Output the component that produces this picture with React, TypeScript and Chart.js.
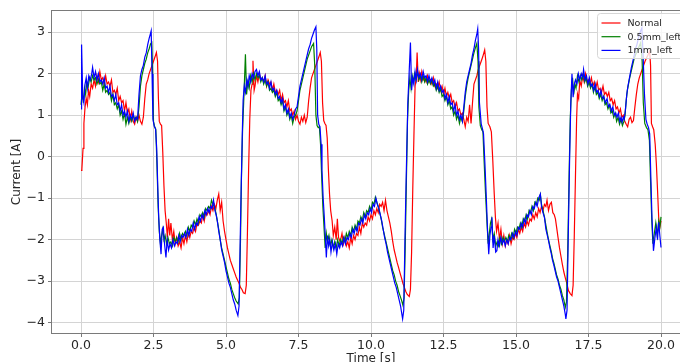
import React, { useEffect, useRef } from "react";
import { Chart, registerables } from "chart.js";

Chart.register(...registerables);

const seriesLabels = ["Normal", "0.5mm_left", "1mm_left"];
const seriesColors = ["#ff0000", "#008000", "#0000ff"];

const xTicks = [0, 2.5, 5, 7.5, 10, 12.5, 15, 17.5, 20];
const yTicks = [-4, -3, -2, -1, 0, 1, 2, 3];

// Normal: [time s, current A]
const normalData: [number, number][] = [
  [0,-0.33],[0.03,-0.3],[0.07,0.2],[0.1,0.8],[0.14,1.2],[0.18,1.4],[0.22,1.25],[0.26,1.6],[0.3,1.45],[0.35,1.75],
  [0.4,1.65],[0.45,1.85],[0.5,1.7],[0.55,1.95],[0.6,1.8],[0.65,2.05],[0.7,1.85],[0.75,1.9],[0.8,1.75],[0.85,1.95],
  [0.9,1.75],[0.95,1.8],[1.0,1.7],[1.05,1.85],[1.1,1.55],[1.15,1.6],[1.2,1.5],[1.25,1.65],[1.3,1.35],[1.35,1.45],
  [1.4,1.3],[1.45,1.35],[1.5,1.1],[1.55,1.3],[1.6,1.05],[1.65,1.15],[1.7,0.9],[1.75,1.1],[1.8,0.85],[1.85,0.78],
  [1.9,0.95],[1.95,0.85],[2.0,1.0],[2.05,0.85],[2.1,0.78],[2.15,0.95],[2.2,1.4],[2.25,1.75],[2.3,1.85],[2.35,2.0],
  [2.4,2.1],[2.45,2.2],[2.5,2.3],[2.55,2.4],[2.6,2.51],[2.64,2.3],[2.67,1.4],[2.7,0.85],[2.74,0.78],[2.78,0.75],
  [2.82,0.1],[2.86,-0.7],[2.9,-1.3],[2.94,-1.6],[2.98,-1.95],[3.02,-1.5],[3.06,-1.9],[3.1,-1.6],[3.15,-2.0],[3.2,-1.8],
  [3.25,-2.1],[3.3,-1.95],[3.35,-2.15],[3.4,-2.05],[3.45,-2.2],[3.5,-1.95],[3.55,-2.1],[3.6,-1.9],[3.65,-2.05],[3.7,-1.85],
  [3.75,-1.95],[3.8,-1.8],[3.85,-1.85],[3.9,-1.7],[3.95,-1.8],[4.0,-1.6],[4.05,-1.65],[4.1,-1.55],[4.15,-1.6],[4.2,-1.4],
  [4.25,-1.55],[4.3,-1.35],[4.35,-1.4],[4.4,-1.3],[4.45,-1.4],[4.5,-1.2],[4.55,-1.3],[4.6,-1.15],[4.65,-1.25],[4.7,-1.05],
  [4.75,-0.9],[4.8,-1.3],[4.85,-1.1],[4.9,-1.55],[4.95,-1.8],[5.0,-2.0],[5.05,-2.2],[5.1,-2.35],[5.15,-2.5],[5.2,-2.6],
  [5.25,-2.7],[5.3,-2.8],[5.35,-2.9],[5.4,-2.98],[5.45,-3.05],[5.5,-3.15],[5.55,-3.2],[5.6,-3.28],[5.66,-3.3],[5.7,-3.1],
  [5.74,-1.8],[5.78,-0.3],[5.82,0.9],[5.86,1.6],[5.9,1.75],[5.93,2.31],[5.97,1.6],[6.0,1.7],[6.05,1.95],[6.1,1.8],
  [6.15,2.0],[6.2,1.85],[6.25,1.9],[6.3,1.8],[6.35,1.95],[6.4,1.7],[6.45,1.85],[6.5,1.75],[6.55,1.8],[6.6,1.6],
  [6.65,1.75],[6.7,1.55],[6.75,1.6],[6.8,1.5],[6.85,1.6],[6.9,1.35],[6.95,1.5],[7.0,1.3],[7.05,1.35],[7.1,1.2],
  [7.15,1.35],[7.2,1.1],[7.25,1.15],[7.3,1.0],[7.35,1.1],[7.4,0.9],[7.45,1.0],[7.5,0.85],[7.55,0.78],[7.6,0.95],
  [7.65,0.85],[7.7,1.0],[7.75,0.82],[7.8,0.95],[7.85,1.35],[7.9,1.65],[7.95,1.9],[8.0,2.0],[8.05,2.1],[8.1,2.2],
  [8.15,2.3],[8.2,2.4],[8.25,2.51],[8.29,2.3],[8.33,1.3],[8.37,0.87],[8.41,0.8],[8.45,0.75],[8.49,0.45],[8.53,-0.3],
  [8.57,-0.9],[8.61,-1.3],[8.66,-1.55],[8.7,-1.9],[8.75,-1.7],[8.8,-2.0],[8.84,-1.5],[8.88,-1.95],[8.94,-2.05],[9.0,-1.85],
  [9.05,-2.1],[9.1,-1.95],[9.15,-2.15],[9.2,-2.05],[9.25,-2.2],[9.3,-1.95],[9.35,-2.1],[9.4,-1.9],[9.45,-2.0],[9.5,-1.85],
  [9.55,-1.9],[9.6,-1.7],[9.65,-1.85],[9.7,-1.6],[9.75,-1.7],[9.8,-1.6],[9.85,-1.65],[9.9,-1.45],[9.95,-1.55],[10.0,-1.4],
  [10.05,-1.5],[10.1,-1.3],[10.15,-1.4],[10.2,-1.25],[10.25,-1.35],[10.3,-1.15],[10.35,-1.2],[10.4,-1.1],[10.45,-1.3],[10.5,-1.05],
  [10.55,-1.3],[10.6,-1.45],[10.65,-1.6],[10.7,-1.8],[10.75,-2.05],[10.8,-2.25],[10.85,-2.4],[10.9,-2.55],[10.95,-2.67],[11.0,-2.8],
  [11.05,-2.92],[11.1,-3.05],[11.15,-3.15],[11.2,-3.25],[11.25,-3.32],[11.32,-3.37],[11.36,-3.2],[11.4,-2.3],[11.44,-0.8],[11.48,0.5],
  [11.52,1.7],[11.56,1.9],[11.59,2.51],[11.63,1.8],[11.67,2.0],[11.7,1.85],[11.75,2.05],[11.8,1.85],[11.85,1.9],[11.9,1.8],
  [11.95,1.95],[12.0,1.8],[12.05,1.85],[12.1,1.75],[12.15,1.9],[12.2,1.7],[12.25,1.75],[12.3,1.65],[12.35,1.8],[12.4,1.6],
  [12.45,1.7],[12.5,1.5],[12.55,1.65],[12.6,1.45],[12.65,1.55],[12.7,1.4],[12.75,1.5],[12.8,1.3],[12.85,1.35],[12.9,1.2],
  [12.95,1.3],[13.0,1.1],[13.05,1.15],[13.1,1.0],[13.15,1.05],[13.2,0.9],[13.25,0.72],[13.3,0.95],[13.35,0.85],[13.4,1.25],
  [13.45,0.8],[13.5,1.3],[13.55,1.75],[13.6,1.85],[13.65,1.95],[13.7,2.1],[13.75,2.2],[13.8,2.3],[13.85,2.4],[13.92,2.57],
  [13.96,2.3],[14.0,1.2],[14.04,0.8],[14.1,0.72],[14.15,0.6],[14.2,-0.1],[14.25,-0.9],[14.29,-1.46],[14.33,-1.8],[14.38,-1.6],
  [14.43,-2.0],[14.48,-1.75],[14.53,-2.1],[14.58,-1.9],[14.63,-2.15],[14.68,-2.0],[14.73,-2.1],[14.78,-1.9],[14.83,-2.1],[14.88,-1.95],
  [14.93,-2.0],[14.98,-1.85],[15.03,-1.95],[15.08,-1.75],[15.13,-1.85],[15.18,-1.7],[15.23,-1.8],[15.28,-1.6],[15.33,-1.7],[15.38,-1.55],
  [15.43,-1.65],[15.48,-1.5],[15.53,-1.55],[15.58,-1.4],[15.63,-1.5],[15.68,-1.35],[15.73,-1.45],[15.78,-1.25],[15.83,-1.35],[15.88,-1.2],
  [15.93,-1.3],[15.98,-1.15],[16.03,-1.2],[16.07,-1.05],[16.12,-1.3],[16.17,-1.15],[16.22,-1.1],[16.27,-1.35],[16.32,-1.4],[16.36,-1.5],
  [16.4,-1.7],[16.45,-1.95],[16.5,-2.2],[16.55,-2.4],[16.6,-2.6],[16.65,-2.78],[16.7,-2.92],[16.75,-3.05],[16.81,-3.23],[16.87,-3.3],
  [16.93,-3.35],[16.97,-3.1],[17.01,-1.9],[17.05,-0.5],[17.09,0.9],[17.12,1.51],[17.16,1.4],[17.2,1.83],[17.25,1.7],[17.3,1.95],
  [17.35,1.8],[17.4,2.0],[17.45,1.8],[17.5,1.85],[17.55,1.75],[17.6,1.9],[17.65,1.7],[17.7,1.8],[17.75,1.65],[17.8,1.8],
  [17.85,1.6],[17.9,1.65],[17.95,1.55],[18.0,1.7],[18.05,1.5],[18.1,1.55],[18.15,1.45],[18.2,1.55],[18.25,1.35],[18.3,1.4],
  [18.35,1.25],[18.4,1.35],[18.45,1.15],[18.5,1.2],[18.55,1.05],[18.6,1.15],[18.65,0.95],[18.7,1.0],[18.75,0.85],[18.8,0.78],
  [18.85,0.72],[18.9,0.9],[18.95,0.95],[19.0,0.82],[19.05,0.87],[19.1,1.2],[19.15,1.5],[19.2,1.75],[19.25,1.9],[19.3,2.0],
  [19.35,2.1],[19.4,2.2],[19.45,2.3],[19.5,2.38],[19.55,2.45],[19.61,2.55],[19.64,2.2],[19.67,0.8],[19.71,0.72],[19.75,0.65],
  [19.8,0.3],[19.84,-0.17],[19.88,-0.8],[19.92,-1.46],[19.96,-1.7],[20.0,-1.55],
];

// 0.5mm_left: [time s, current A]
const halfMmData: [number, number][] = [
  [0,1.25],[0.04,1.55],[0.08,1.3],[0.12,1.65],[0.16,1.5],[0.2,1.8],[0.25,1.7],[0.3,1.9],[0.35,1.8],[0.4,1.95],
  [0.45,1.85],[0.5,1.9],[0.55,1.75],[0.6,1.85],[0.65,1.75],[0.7,1.8],[0.75,1.6],[0.8,1.75],[0.85,1.55],[0.9,1.6],
  [0.95,1.5],[1.0,1.55],[1.05,1.35],[1.1,1.5],[1.15,1.25],[1.2,1.3],[1.25,1.15],[1.3,1.25],[1.35,1.0],[1.4,1.1],
  [1.45,0.9],[1.5,1.05],[1.55,0.78],[1.6,0.95],[1.65,0.8],[1.7,0.95],[1.75,0.85],[1.8,1.0],[1.85,0.9],[1.9,0.95],
  [1.95,0.85],[2.0,1.2],[2.05,1.7],[2.1,1.95],[2.15,2.1],[2.2,2.25],[2.25,2.35],[2.3,2.5],[2.35,2.6],[2.4,2.72],
  [2.44,2.75],[2.47,2.0],[2.5,0.85],[2.54,0.72],[2.58,0.65],[2.62,-0.2],[2.66,-1.2],[2.7,-1.8],[2.74,-2.1],[2.78,-1.9],
  [2.82,-1.75],[2.86,-2.0],[2.9,-1.9],[2.95,-2.1],[3.0,-1.95],[3.05,-2.1],[3.1,-2.05],[3.15,-2.15],[3.2,-1.95],[3.25,-2.05],
  [3.3,-1.95],[3.35,-2.05],[3.4,-1.85],[3.45,-2.0],[3.5,-1.85],[3.55,-1.9],[3.6,-1.8],[3.65,-1.9],[3.7,-1.7],[3.75,-1.8],
  [3.8,-1.65],[3.85,-1.7],[3.9,-1.55],[3.95,-1.65],[4.0,-1.5],[4.05,-1.6],[4.1,-1.4],[4.15,-1.45],[4.2,-1.35],[4.25,-1.45],
  [4.3,-1.25],[4.35,-1.3],[4.4,-1.2],[4.45,-1.25],[4.5,-1.05],[4.55,-1.15],[4.6,-1.2],[4.65,-1.35],[4.7,-1.55],[4.75,-1.75],
  [4.8,-2.0],[4.85,-2.2],[4.9,-2.35],[4.95,-2.5],[5.0,-2.65],[5.05,-2.8],[5.1,-2.95],[5.15,-3.05],[5.2,-3.2],[5.25,-3.3],
  [5.3,-3.4],[5.35,-3.48],[5.42,-3.55],[5.46,-3.4],[5.5,-2.0],[5.53,-0.6],[5.57,0.6],[5.62,1.5],[5.67,2.47],[5.71,1.5],
  [5.75,1.8],[5.8,1.65],[5.85,1.95],[5.9,1.8],[5.95,2.0],[6.0,1.85],[6.05,2.0],[6.1,1.9],[6.15,1.95],[6.2,1.8],
  [6.25,1.9],[6.3,1.75],[6.35,1.85],[6.4,1.7],[6.45,1.8],[6.5,1.6],[6.55,1.65],[6.6,1.55],[6.65,1.6],[6.7,1.45],
  [6.75,1.55],[6.8,1.35],[6.85,1.4],[6.9,1.25],[6.95,1.35],[7.0,1.1],[7.05,1.2],[7.1,1.0],[7.15,1.1],[7.2,0.9],
  [7.25,1.0],[7.3,0.8],[7.35,0.95],[7.4,1.0],[7.45,1.1],[7.5,1.35],[7.55,1.6],[7.6,1.75],[7.65,1.9],[7.7,2.05],
  [7.75,2.2],[7.8,2.35],[7.85,2.45],[7.9,2.55],[7.95,2.65],[8.02,2.73],[8.06,2.2],[8.1,1.0],[8.14,0.75],[8.18,0.7],
  [8.22,0.72],[8.26,0.3],[8.3,-0.5],[8.34,-1.2],[8.38,-1.7],[8.42,-2.2],[8.46,-1.85],[8.5,-2.05],[8.55,-1.9],[8.6,-2.15],
  [8.65,-2.0],[8.7,-2.2],[8.75,-2.05],[8.8,-2.2],[8.85,-2.0],[8.9,-2.15],[8.95,-2.0],[9.0,-2.1],[9.05,-1.95],[9.1,-2.05],
  [9.15,-1.85],[9.2,-1.95],[9.25,-1.8],[9.3,-1.9],[9.35,-1.7],[9.4,-1.8],[9.45,-1.65],[9.5,-1.75],[9.55,-1.55],[9.6,-1.6],
  [9.65,-1.45],[9.7,-1.55],[9.75,-1.35],[9.8,-1.45],[9.85,-1.3],[9.9,-1.35],[9.95,-1.2],[10.0,-1.3],[10.05,-1.1],[10.1,-1.15],
  [10.15,-0.98],[10.2,-1.1],[10.25,-1.2],[10.3,-1.35],[10.35,-1.5],[10.4,-1.7],[10.45,-1.85],[10.5,-2.0],[10.55,-2.15],[10.6,-2.3],
  [10.65,-2.45],[10.7,-2.6],[10.75,-2.75],[10.8,-2.85],[10.85,-3.0],[10.9,-3.1],[10.95,-3.25],[11.0,-3.35],[11.05,-3.45],[11.1,-3.58],
  [11.14,-3.4],[11.18,-2.2],[11.22,-0.6],[11.26,0.9],[11.3,1.59],[11.34,1.9],[11.38,1.65],[11.42,1.95],[11.46,1.8],[11.5,2.0],
  [11.55,1.85],[11.6,2.05],[11.65,1.85],[11.7,1.95],[11.75,1.8],[11.8,1.95],[11.85,1.8],[11.9,1.9],[11.95,1.75],[12.0,1.85],
  [12.05,1.75],[12.1,1.85],[12.15,1.7],[12.2,1.75],[12.25,1.6],[12.3,1.7],[12.35,1.55],[12.4,1.65],[12.45,1.45],[12.5,1.5],
  [12.55,1.35],[12.6,1.45],[12.65,1.25],[12.7,1.35],[12.75,1.15],[12.8,1.2],[12.85,1.0],[12.9,1.1],[12.95,0.9],[13.0,1.0],
  [13.05,0.8],[13.1,0.95],[13.15,0.85],[13.2,1.1],[13.25,1.45],[13.3,1.7],[13.35,1.9],[13.4,2.05],[13.45,2.2],[13.5,2.35],
  [13.55,2.5],[13.6,2.62],[13.65,2.73],[13.69,2.3],[13.72,1.2],[13.77,0.75],[13.82,0.65],[13.86,0.6],[13.9,-0.1],[13.95,-0.9],
  [14.0,-1.6],[14.04,-2.1],[14.08,-1.85],[14.12,-1.6],[14.16,-1.5],[14.2,-2.0],[14.25,-1.85],[14.3,-2.15],[14.35,-2.05],[14.4,-2.15],
  [14.45,-1.95],[14.5,-2.1],[14.55,-1.95],[14.6,-2.05],[14.65,-1.95],[14.7,-2.05],[14.75,-1.9],[14.8,-2.0],[14.85,-1.85],[14.9,-1.95],
  [14.95,-1.75],[15.0,-1.85],[15.05,-1.7],[15.1,-1.75],[15.15,-1.6],[15.2,-1.7],[15.25,-1.5],[15.3,-1.55],[15.35,-1.4],[15.4,-1.5],
  [15.45,-1.3],[15.5,-1.35],[15.55,-1.2],[15.6,-1.3],[15.65,-1.1],[15.7,-1.15],[15.75,-1.0],[15.8,-1.05],[15.84,-0.92],[15.88,-1.15],
  [15.93,-1.3],[15.98,-1.45],[16.03,-1.65],[16.08,-1.85],[16.12,-2.0],[16.17,-2.15],[16.22,-2.3],[16.26,-2.45],[16.3,-2.55],[16.35,-2.7],
  [16.4,-2.85],[16.45,-2.95],[16.5,-3.1],[16.55,-3.2],[16.6,-3.35],[16.65,-3.45],[16.7,-3.63],[16.74,-3.5],[16.78,-2.4],[16.83,-0.5],
  [16.87,0.9],[16.91,1.6],[16.95,1.9],[16.99,1.5],[17.03,1.75],[17.07,1.65],[17.12,1.95],[17.17,1.8],[17.22,1.95],[17.27,1.85],
  [17.32,2.0],[17.37,1.8],[17.42,1.9],[17.47,1.7],[17.52,1.8],[17.57,1.65],[17.62,1.75],[17.67,1.55],[17.72,1.7],[17.77,1.5],
  [17.82,1.55],[17.87,1.4],[17.92,1.5],[17.97,1.35],[18.02,1.45],[18.07,1.25],[18.12,1.3],[18.17,1.15],[18.22,1.25],[18.27,1.05],
  [18.32,1.1],[18.37,0.95],[18.42,1.05],[18.47,0.85],[18.52,0.95],[18.57,0.78],[18.62,0.9],[18.67,0.75],[18.72,0.85],[18.76,1.0],
  [18.8,1.35],[18.84,1.6],[18.88,1.75],[18.92,1.9],[18.97,2.05],[19.02,2.2],[19.07,2.35],[19.12,2.45],[19.18,2.55],[19.24,2.65],
  [19.3,2.75],[19.35,2.3],[19.39,1.3],[19.44,0.8],[19.5,0.7],[19.55,0.65],[19.6,0.4],[19.64,-0.6],[19.68,-1.5],[19.72,-2.1],
  [19.77,-1.85],[19.82,-1.6],[19.87,-1.9],[19.92,-1.55],[19.96,-1.7],[20.0,-1.45],
];

// 1mm_left: [time s, current A]
const oneMmData: [number, number][] = [
  [0,1.15],[0.02,2.7],[0.06,1.45],[0.1,1.3],[0.14,1.75],[0.18,1.9],[0.22,1.65],[0.27,1.95],[0.32,1.85],[0.37,2.0],
  [0.4,2.15],[0.45,1.9],[0.5,2.05],[0.55,1.85],[0.6,2.0],[0.65,1.8],[0.7,1.85],[0.75,1.75],[0.8,1.9],[0.85,1.65],
  [0.9,1.7],[0.95,1.55],[1.0,1.7],[1.05,1.45],[1.1,1.5],[1.15,1.35],[1.2,1.5],[1.25,1.25],[1.3,1.3],[1.35,1.1],
  [1.4,1.25],[1.45,1.0],[1.5,1.1],[1.55,0.95],[1.6,1.1],[1.65,0.85],[1.7,1.0],[1.75,0.9],[1.8,1.05],[1.85,0.85],
  [1.9,0.95],[1.95,0.9],[2.0,1.5],[2.05,1.95],[2.1,2.1],[2.15,2.2],[2.2,2.4],[2.25,2.5],[2.3,2.7],[2.35,2.85],
  [2.39,2.95],[2.42,3.03],[2.45,2.0],[2.48,0.9],[2.53,0.72],[2.57,0.68],[2.61,0.2],[2.65,-0.8],[2.68,-1.46],[2.72,-2.0],
  [2.76,-2.35],[2.8,-1.75],[2.84,-1.7],[2.88,-2.1],[2.93,-2.43],[2.97,-2.0],[3.02,-2.25],[3.07,-2.1],[3.12,-2.2],[3.17,-2.0],
  [3.22,-2.15],[3.27,-2.05],[3.32,-2.1],[3.37,-1.9],[3.42,-2.05],[3.47,-1.9],[3.52,-1.95],[3.57,-1.85],[3.62,-1.95],[3.67,-1.75],
  [3.72,-1.9],[3.77,-1.75],[3.82,-1.8],[3.87,-1.6],[3.92,-1.75],[3.97,-1.6],[4.02,-1.65],[4.07,-1.45],[4.12,-1.55],[4.17,-1.4],
  [4.22,-1.5],[4.27,-1.3],[4.32,-1.4],[4.37,-1.25],[4.42,-1.35],[4.47,-1.2],[4.52,-1.25],[4.57,-1.05],[4.62,-1.3],[4.66,-1.4],
  [4.7,-1.55],[4.75,-1.8],[4.8,-2.0],[4.85,-2.25],[4.9,-2.4],[4.95,-2.55],[5.0,-2.75],[5.05,-2.9],[5.1,-3.05],[5.15,-3.15],
  [5.2,-3.3],[5.25,-3.45],[5.3,-3.55],[5.35,-3.7],[5.41,-3.83],[5.45,-3.6],[5.49,-2.0],[5.52,-0.9],[5.56,0.5],[5.59,1.35],
  [5.63,1.7],[5.67,1.55],[5.72,1.85],[5.76,1.7],[5.8,1.95],[5.85,1.8],[5.9,2.0],[5.95,1.9],[6.0,2.05],[6.05,2.1],
  [6.1,1.95],[6.15,2.05],[6.2,1.85],[6.25,1.9],[6.3,1.8],[6.35,1.95],[6.4,1.75],[6.45,1.8],[6.5,1.65],[6.55,1.8],
  [6.6,1.6],[6.65,1.65],[6.7,1.5],[6.75,1.6],[6.8,1.4],[6.85,1.45],[6.9,1.3],[6.95,1.4],[7.0,1.15],[7.05,1.25],
  [7.1,1.05],[7.15,1.15],[7.2,0.95],[7.25,1.05],[7.3,0.9],[7.35,1.0],[7.4,1.15],[7.45,1.2],[7.5,1.45],[7.55,1.7],
  [7.6,1.85],[7.65,2.0],[7.7,2.15],[7.75,2.3],[7.8,2.45],[7.85,2.6],[7.9,2.7],[7.95,2.85],[8.0,2.95],[8.05,3.05],
  [8.1,3.13],[8.13,2.6],[8.16,1.0],[8.2,0.78],[8.24,0.72],[8.28,0.3],[8.31,-0.33],[8.35,-1.0],[8.39,-1.46],[8.43,-2.0],
  [8.46,-2.43],[8.5,-1.9],[8.54,-2.15],[8.58,-2.0],[8.62,-2.3],[8.67,-2.05],[8.72,-2.25],[8.77,-2.1],[8.82,-2.35],[8.87,-2.1],
  [8.92,-2.2],[8.97,-2.05],[9.02,-2.15],[9.07,-1.95],[9.12,-2.1],[9.17,-1.95],[9.22,-2.0],[9.27,-1.85],[9.32,-1.95],[9.37,-1.75],
  [9.42,-1.85],[9.47,-1.7],[9.52,-1.8],[9.57,-1.6],[9.62,-1.65],[9.67,-1.5],[9.72,-1.6],[9.77,-1.4],[9.82,-1.5],[9.87,-1.35],
  [9.92,-1.4],[9.97,-1.25],[10.02,-1.35],[10.07,-1.15],[10.12,-1.2],[10.17,-1.0],[10.22,-1.15],[10.27,-1.25],[10.32,-1.4],[10.37,-1.55],
  [10.42,-1.75],[10.47,-1.95],[10.52,-2.1],[10.57,-2.3],[10.62,-2.45],[10.67,-2.6],[10.72,-2.75],[10.77,-2.9],[10.82,-3.05],[10.87,-3.15],
  [10.92,-3.3],[10.97,-3.45],[11.02,-3.6],[11.06,-3.78],[11.09,-3.91],[11.13,-3.7],[11.17,-2.0],[11.22,-0.3],[11.27,1.3],[11.32,2.1],
  [11.36,2.75],[11.4,1.6],[11.44,1.9],[11.48,1.75],[11.52,2.05],[11.56,1.85],[11.6,2.1],[11.65,1.9],[11.7,2.0],[11.75,1.85],
  [11.8,2.05],[11.85,1.9],[11.9,1.95],[11.95,1.8],[12.0,1.95],[12.05,1.8],[12.1,1.9],[12.15,1.75],[12.2,1.85],[12.25,1.65],
  [12.3,1.8],[12.35,1.6],[12.4,1.7],[12.45,1.55],[12.5,1.6],[12.55,1.4],[12.6,1.5],[12.65,1.3],[12.7,1.45],[12.75,1.25],
  [12.8,1.3],[12.85,1.1],[12.9,1.25],[12.95,1.0],[13.0,1.1],[13.05,0.9],[13.1,1.0],[13.15,0.85],[13.2,1.2],[13.25,1.55],
  [13.3,1.8],[13.35,1.95],[13.4,2.1],[13.45,2.25],[13.5,2.45],[13.55,2.6],[13.6,2.8],[13.65,2.95],[13.68,3.08],[13.71,2.6],
  [13.74,1.3],[13.8,0.79],[13.85,0.65],[13.88,0.55],[13.93,-0.2],[13.98,-1.06],[14.02,-1.8],[14.06,-2.35],[14.1,-1.9],[14.14,-1.7],
  [14.17,-1.46],[14.21,-2.2],[14.25,-1.9],[14.3,-2.3],[14.34,-2.27],[14.38,-2.0],[14.43,-2.15],[14.48,-1.95],[14.53,-2.1],[14.58,-2.0],
  [14.63,-2.15],[14.68,-2.0],[14.73,-2.1],[14.78,-1.95],[14.83,-2.0],[14.88,-1.85],[14.93,-1.95],[14.98,-1.8],[15.03,-1.9],[15.08,-1.7],
  [15.13,-1.75],[15.18,-1.6],[15.23,-1.7],[15.28,-1.5],[15.33,-1.6],[15.38,-1.4],[15.43,-1.45],[15.48,-1.3],[15.53,-1.4],[15.58,-1.2],
  [15.63,-1.25],[15.68,-1.1],[15.73,-1.2],[15.78,-1.0],[15.84,-0.9],[15.88,-1.2],[15.93,-1.35],[15.98,-1.46],[16.03,-1.75],[16.08,-1.9],
  [16.12,-2.02],[16.17,-2.2],[16.22,-2.35],[16.26,-2.5],[16.3,-2.6],[16.35,-2.75],[16.4,-2.9],[16.45,-3.0],[16.5,-3.15],[16.55,-3.3],
  [16.6,-3.45],[16.65,-3.6],[16.7,-3.8],[16.72,-3.91],[16.76,-3.7],[16.8,-2.0],[16.85,0.0],[16.89,1.3],[16.93,2.0],[16.97,1.43],
  [17.0,1.7],[17.05,1.85],[17.1,1.75],[17.15,2.0],[17.2,1.85],[17.25,2.0],[17.3,1.9],[17.33,2.1],[17.38,1.85],[17.43,1.95],
  [17.48,1.75],[17.53,1.9],[17.58,1.7],[17.63,1.75],[17.68,1.6],[17.73,1.75],[17.78,1.55],[17.83,1.6],[17.88,1.45],[17.93,1.6],
  [17.98,1.4],[18.03,1.45],[18.08,1.3],[18.14,1.4],[18.19,1.2],[18.24,1.25],[18.29,1.1],[18.34,1.2],[18.39,1.0],[18.44,1.05],
  [18.48,0.95],[18.53,1.05],[18.58,0.85],[18.62,0.95],[18.66,0.83],[18.7,0.95],[18.73,0.9],[18.77,1.11],[18.82,1.5],[18.86,1.7],
  [18.9,1.85],[18.94,2.0],[18.98,2.15],[19.03,2.3],[19.08,2.45],[19.12,2.6],[19.17,2.7],[19.22,2.85],[19.28,3.0],[19.34,3.1],
  [19.38,2.5],[19.43,1.5],[19.48,0.9],[19.52,0.79],[19.57,0.7],[19.61,0.55],[19.65,-0.5],[19.69,-1.5],[19.74,-2.27],[19.79,-1.95],
  [19.84,-1.7],[19.88,-2.0],[19.92,-1.58],[19.96,-1.9],[20.0,-2.19],
];

const seriesData = [normalData, halfMmData, oneMmData];

const CANVAS_W = 700;
const CANVAS_H = 372;

const framePlugin = {
  id: "frameAndLegend",
  afterDatasetsDraw(chart: any) {
    const { ctx, chartArea } = chart;
    const { left, top, right, bottom } = chartArea;
    ctx.save();
    ctx.strokeStyle = "#7a7a7a";
    ctx.lineWidth = 1;
    ctx.strokeRect(Math.round(left) - 0.5, Math.round(top) - 0.5, right - left + 1, bottom - top + 1);

    const bx = right - 92.5;
    const by = top + 2.5;
    const bw = 110;
    const bh = 45;
    ctx.beginPath();
    if ((ctx as any).roundRect) (ctx as any).roundRect(bx, by, bw, bh, 3);
    else ctx.rect(bx, by, bw, bh);
    ctx.fillStyle = "rgba(255,255,255,0.8)";
    ctx.fill();
    ctx.strokeStyle = "#d6d6d6";
    ctx.stroke();

    ctx.font = '9.5px "DejaVu Sans"';
    ctx.textBaseline = "middle";
    ctx.textAlign = "left";
    seriesLabels.forEach((label, i) => {
      const yy = by + 9.5 + i * 13.7;
      ctx.strokeStyle = seriesColors[i];
      ctx.lineWidth = 1.2;
      ctx.beginPath();
      ctx.moveTo(bx + 4, yy);
      ctx.lineTo(bx + 23, yy);
      ctx.stroke();
      ctx.fillStyle = "#262626";
      ctx.fillText(label, bx + 30, yy + 0.5);
    });
    ctx.restore();
  },
};

export default function App() {
  const canvasRef = useRef<HTMLCanvasElement | null>(null);

  useEffect(() => {
    const canvas = canvasRef.current;
    if (!canvas) return;
    const font = '"DejaVu Sans", sans-serif';
    const order = [2, 1, 0];
    const chart = new Chart(canvas, {
      type: "line",
      data: {
        datasets: seriesLabels.map((label, i) => ({
          label,
          data: seriesData[i].map(([x, y]) => ({ x, y })),
          borderColor: seriesColors[i],
          backgroundColor: seriesColors[i],
          borderWidth: 1.2,
          pointRadius: 0,
          tension: 0,
          fill: false,
          order: order[i],
        })),
      },
      options: {
        animation: false,
        responsive: false,
        devicePixelRatio: 1,
        layout: { padding: { left: 0, right: CANVAS_W - 690, top: 11, bottom: 0 } },
        plugins: {
          legend: { display: false },
          tooltip: { enabled: false },
        },
        scales: {
          x: {
            type: "linear",
            min: -1,
            max: 21,
            afterBuildTicks: (scale: any) => {
              scale.ticks = xTicks.map((v) => ({ value: v }));
            },
            afterFit: (scale: any) => {
              scale.height = CANVAS_H - 333;
            },
            ticks: {
              autoSkip: false,
              maxRotation: 0,
              padding: 1,
              color: "#262626",
              font: { family: font, size: 12.5 },
              callback: (v: any) => Number(v).toFixed(1),
            },
            grid: { color: "#d4d4d4", lineWidth: 1, tickLength: 4, tickColor: "#7a7a7a" },
            border: { display: false },
            title: {
              display: true,
              text: "Time [s]",
              color: "#262626",
              font: { family: font, size: 12 },
              padding: { top: 0, bottom: 6 },
            },
          },
          y: {
            type: "linear",
            min: -4.25,
            max: 3.51,
            afterBuildTicks: (scale: any) => {
              scale.ticks = yTicks.map((v) => ({ value: v }));
            },
            afterFit: (scale: any) => {
              scale.width = 52;
            },
            ticks: {
              padding: 3,
              color: "#262626",
              font: { family: font, size: 12.5 },
              callback: (v: any) => String(v).replace("-", "\u2212"),
            },
            grid: { color: "#d4d4d4", lineWidth: 1, tickLength: 4, tickColor: "#7a7a7a" },
            border: { display: false },
            title: {
              display: true,
              text: "Current [A]",
              color: "#262626",
              font: { family: font, size: 12 },
              padding: { top: 10, bottom: 0 },
            },
          },
        },
      },
      plugins: [framePlugin],
    });
    return () => chart.destroy();
  }, []);

  return (
    <div
      style={{
        position: "absolute",
        left: 0,
        top: 0,
        width: 680,
        height: 362,
        overflow: "hidden",
        background: "#ffffff",
      }}
    >
      <canvas
        ref={canvasRef}
        width={CANVAS_W}
        height={CANVAS_H}
        style={{ width: CANVAS_W, height: CANVAS_H, display: "block" }}
      />
    </div>
  );
}
